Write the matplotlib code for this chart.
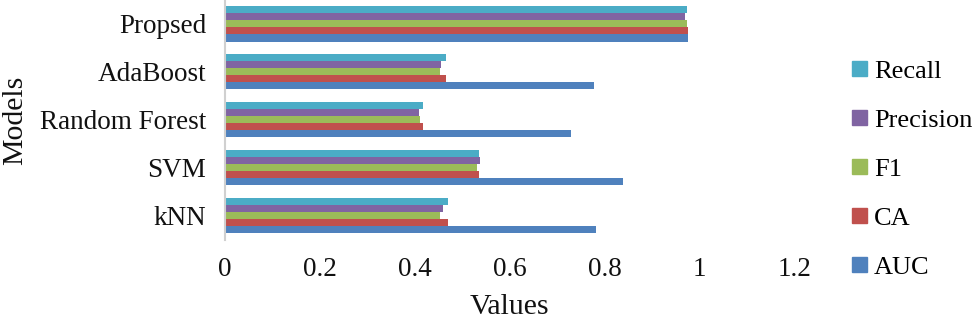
import numpy as np
import matplotlib
matplotlib.use("Agg")
import matplotlib.pyplot as plt
from matplotlib.patches import Patch

plt.rcParams['font.family'] = ['Liberation Serif', 'DejaVu Serif']

# Data (bottom to top on the y axis)
models = ["kNN", "SVM", "Random Forest", "AdaBoost", "Propsed"]
auc = [0.782, 0.838, 0.728, 0.778, 0.976]
ca = [0.470, 0.535, 0.418, 0.465, 0.976]
f1 = [0.453, 0.532, 0.411, 0.454, 0.973]
precision = [0.460, 0.537, 0.409, 0.456, 0.969]
recall = [0.470, 0.535, 0.418, 0.465, 0.973]

metric_names = ["AUC", "CA", "F1", "Precision", "Recall"]
metric_colors = ["#4F81BD", "#C0504D", "#9BBB59", "#8064A2", "#4BACC6"]

fig = plt.figure(figsize=(9.75, 3.22), dpi=100)
ax = fig.add_axes([0.2303, 0.255, 0.585, 0.745])

y = np.arange(len(models))
h = 0.146
series = [auc, ca, f1, precision, recall]
for i, (vals, name, col) in enumerate(zip(series, metric_names, metric_colors)):
    offset = (i - 2) * h
    ax.barh(y + offset, vals, height=h, color=col, label=name)

ax.set_xlim(0, 1.2)
ax.set_ylim(-0.5, 4.5)
ax.set_xticks([0, 0.2, 0.4, 0.6, 0.8, 1.0, 1.2])
ax.set_xticklabels(["0", "0.2", "0.4", "0.6", "0.8", "1", "1.2"])
ax.set_yticks(y)
ax.set_yticklabels(models)
ax.tick_params(axis='both', length=0, labelsize=19.5, colors='#111111')
ax.tick_params(axis='x', pad=12)
ax.tick_params(axis='y', pad=13)

for s in ["top", "right", "bottom"]:
    ax.spines[s].set_visible(False)
ax.spines["left"].set_color("#d0d0d0")
ax.spines["left"].set_linewidth(1.5)

ax.set_xlabel("Values", fontsize=21.5, color='#111111', labelpad=9)
ax.set_ylabel("Models", fontsize=21.5, color='#111111', labelpad=9)

handles = [Patch(color=c, label=n) for n, c in zip(metric_names, metric_colors)][::-1]
fig.legend(handles=handles, loc='center left', bbox_to_anchor=(0.8635, 0.472),
           frameon=False, fontsize=19, handlelength=0.55, handleheight=0.5,
           handletextpad=0.27, labelspacing=1.02, borderaxespad=0)

fig.savefig("out.png", dpi=100)
